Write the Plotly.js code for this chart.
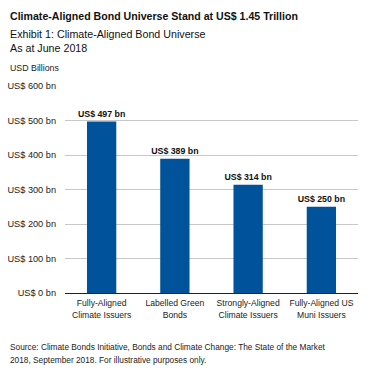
<!DOCTYPE html>
<html><head><meta charset="utf-8">
<script src="https://cdn.plot.ly/plotly-3.0.1.min.js"></script>
<style>html,body{margin:0;padding:0;background:#fff}#c{width:370px;height:373px}</style>
</head><body><div id="c"></div>
<script>
const categories = ["Fully-Aligned<br>Climate Issuers", "Labelled Green<br>Bonds", "Strongly-Aligned<br>Climate Issuers", "Fully-Aligned US<br>Muni Issuers"];
const values = [497, 389, 314, 250];
const barLabels = ["US$ 497 bn", "US$ 389 bn", "US$ 314 bn", "US$ 250 bn"];
const tickVals = [0, 100, 200, 300, 400, 500, 600];
const tickText = ["US$ 0 bn", "US$ 100 bn", "US$ 200 bn", "US$ 300 bn", "US$ 400 bn", "US$ 500 bn", "US$ 600 bn"];

const F = "Liberation Sans Narrow, Arial Narrow, Liberation Sans, Arial, sans-serif";
const F2 = "Liberation Sans, Arial, sans-serif";

Plotly.newPlot('c', [{
  type: 'bar', x: categories, y: values,
  text: barLabels, textposition: 'outside', cliponaxis: false, constraintext: 'none',
  textfont: {family: F, size: 8.8, color: '#111', weight: 'bold'},
  marker: {color: '#00539b'}, hoverinfo: 'none'
}], {
  width: 370, height: 373,
  margin: {l: 65, r: 12, t: 86, b: 80},
  bargap: 0.6,
  showlegend: false,
  paper_bgcolor: '#fff', plot_bgcolor: '#fff',
  font: {family: F, size: 9, color: '#222'},
  xaxis: {tickfont: {family: F, size: 8.6, color: '#222'}, tickangle: 0, showline: true, linecolor: '#222', linewidth: 1, ticks: '', ticklabelstandoff: 2, fixedrange: true},
  yaxis: {range: [0, 600], tickvals: tickVals, ticktext: tickText, showgrid: true, gridcolor: '#c8c8c8', gridwidth: 1,
          zeroline: false, ticks: '', ticklabelstandoff: 8, tickfont: {family: F, size: 9.2, color: '#222'}, fixedrange: true},
  annotations: [
    {text: '<b>Climate-Aligned Bond Universe Stand at US$ 1.45 Trillion</b>', xref: 'paper', yref: 'paper', x: -0.19, y: 1, xshift: -1, yshift: 70, xanchor: 'left', yanchor: 'middle', showarrow: false, font: {family: F, size: 10.6, color: '#111'}},
    {text: 'Exhibit 1: Climate-Aligned Bond Universe<br>As at June 2018', xref: 'paper', yref: 'paper', x: -0.19, y: 1, xshift: -1, yshift: 45, xanchor: 'left', yanchor: 'middle', align: 'left', showarrow: false, font: {family: F2, size: 10.7, color: '#111'}},
    {text: 'USD Billions', xref: 'paper', yref: 'paper', x: -0.19, y: 1, xshift: -1, yshift: 18, xanchor: 'left', yanchor: 'middle', showarrow: false, font: {family: F, size: 8.8, color: '#222'}},
    {text: 'Source: Climate Bonds Initiative, Bonds and Climate Change: The State of the Market', xref: 'paper', yref: 'paper', x: -0.19, y: 0, xshift: -1, yshift: -54, xanchor: 'left', yanchor: 'middle', align: 'left', showarrow: false, font: {family: F, size: 8.3, color: '#222'}},
    {text: '2018, September 2018. For illustrative purposes only.', xref: 'paper', yref: 'paper', x: -0.19, y: 0, xshift: -1, yshift: -67, xanchor: 'left', yanchor: 'middle', align: 'left', showarrow: false, font: {family: F, size: 8.3, color: '#222'}}
  ]
}, {displayModeBar: false, staticPlot: true});
</script></body></html>
